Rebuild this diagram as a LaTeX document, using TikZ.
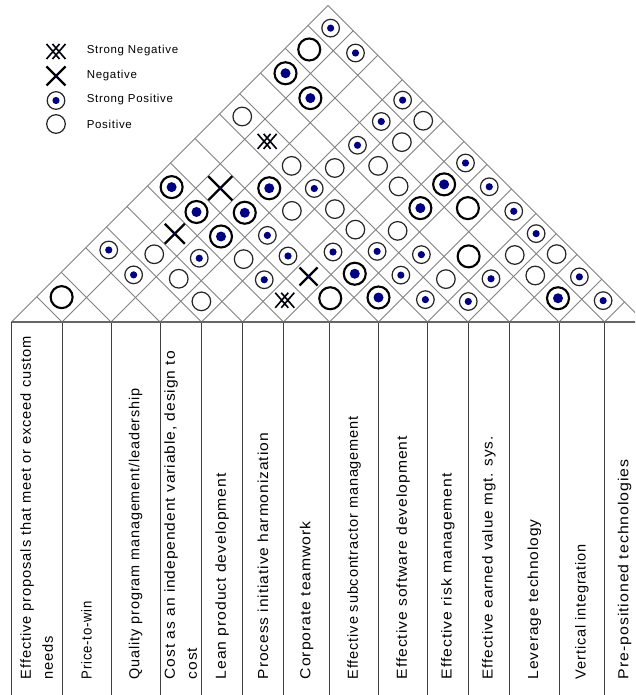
\documentclass[tikz,border=0pt]{standalone}
\usepackage{fontspec}
\setmainfont{Liberation Sans}
\newfontfamily\lblfont{Liberation Sans}[LetterSpace=6]
\newcommand\labfont{\lblfont\fontsize{10.875pt}{16.5pt}\selectfont}
\definecolor{navy}{RGB}{0,0,128}
\definecolor{gridgray}{RGB}{128,128,128}
\def\Bnd{{11.5,62,111,160,201.5,242.5,283.5,329.5,378.5,427.5,468,509.5,559,604.5,644.5}}
\def\yz{322}
\newcommand\colctr[2]{% #1 column index, #2 macro to receive centre
  \pgfmathsetmacro\bndA{\Bnd[\the\numexpr#1-1\relax]}%
  \pgfmathsetmacro\bndB{\Bnd[#1]}%
  \pgfmathsetmacro#2{(\bndA+\bndB)/2}%
}
\newcommand\cellsym[3]{%
  \colctr{#1}{\cI}\colctr{#2}{\cJ}%
  \pgfmathsetmacro\cX{(\cI+\cJ)/2}%
  \pgfmathsetmacro\cY{\yz-(\cJ-\cI)/2}%
  \coordinate (cell-#1-#2) at (\cX,\cY);%
  \pic at (cell-#1-#2) {#3};%
}
\newcommand\fitscale[3]{% key, target length in px, text
  \setbox0=\hbox{\labfont #3}%
  \edef\natw{\the\wd0}%
  \pgfmathsetmacro\tmpsx{#2*0.75/\natw}%
  \expandafter\xdef\csname sxl#1\endcsname{\tmpsx}%
}
\newcommand\collabel[3]{% index, name, text
  \colctr{#1}{\cI}%
  \edef\sx{\csname sxl#1\endcsname}%
  \node[lbl] (#2) at (\cI,679.5) {\scalebox{\sx}[1]{#3}};%
}
\newcommand\collabelii[4]{% index, name, line 1, line 2
  \colctr{#1}{\cI}%
  \edef\sx{\csname sxl#1\endcsname}%
  \node[lbl] (#2) at (\cI,679.5) {\scalebox{\sx}[1]{#3}\\\scalebox{\sx}[1]{#4}};%
}
\begin{document}%
\fitscale{1}{343}{Effective proposals that meet or exceed custom}%
\fitscale{2}{78}{Price-to-win}%
\fitscale{3}{291}{Quality program management/leadership}%
\fitscale{4}{328}{Cost as an independent variable, design to}%
\fitscale{5}{206}{Lean product development}%
\fitscale{6}{246}{Process initiative harmonization}%
\fitscale{7}{158}{Corporate teamwork}%
\fitscale{8}{263}{Effective subcontractor management}%
\fitscale{9}{243}{Effective software development}%
\fitscale{10}{206}{Effective risk management}%
\fitscale{11}{243}{Effective earned value mgt. sys.}%
\fitscale{12}{160}{Leverage technology}%
\fitscale{13}{135}{Vertical integration}%
\fitscale{14}{220}{Pre-positioned technologies}%
\begin{tikzpicture}[x=0.75pt,y=-0.75pt,
  gridline/.style={draw=gridgray,line width=0.75pt},
  colline/.style={draw=black!75,line width=0.75pt},
  roofbase/.style={draw=gridgray!80!black,line width=0.9pt},
  lbl/.style={rotate=90,anchor=west,inner sep=0pt,align=left,font=\labfont},
  legtxt/.style={anchor=west,inner sep=0pt,
    font=\lblfont\fontsize{8.625pt}{10pt}\selectfont},
  pics/sp/.style={code={\draw[line width=0.9pt,draw=black!85] (0,0) circle[radius=8.8];
      \fill[navy] (0,0) circle[radius=3.6];}},
  pics/spl/.style={code={\draw[line width=1.6pt,draw=black] (0,0) circle[radius=11];
      \fill[navy] (0,0) circle[radius=5];}},
  pics/po/.style={code={\draw[line width=0.9pt,draw=black!85] (0,0) circle[radius=9.3];}},
  pics/pol/.style={code={\draw[line width=1.6pt,draw=black] (0,0) circle[radius=11];}},
  pics/ng/.style={code={\draw[line width=1.8pt,draw=black] (-#1,-#1) -- (#1,#1) (-#1,#1) -- (#1,-#1);
      \fill[navy] (0,0) circle[radius=1.3];}},
  pics/sn/.style={code={\draw[line width=1.2pt,draw=black!90!navy]
      (-9.5,-7.5) -- (3.5,7.5) (-9.5,7.5) -- (3.5,-7.5)
      (-3.5,-7.5) -- (9.5,7.5) (-3.5,7.5) -- (9.5,-7.5);}}
]
\useasboundingbox (0,0) rectangle (635,695);
\clip (0,0) rectangle (635,695);
% base points and roof grid
\pgfmathsetmacro\bz{\Bnd[0]}
\pgfmathsetmacro\bn{\Bnd[14]}
\foreach \k in {0,...,14} {
  \pgfmathsetmacro\bk{\Bnd[\k]}
  \coordinate (base-\k) at (\bk,\yz);
  \coordinate (foot-\k) at (\bk,695);
}
\foreach \k in {0,...,13} {
  \pgfmathsetmacro\bk{\Bnd[\k]}
  \pgfmathsetmacro\ex{(\bk+\bn)/2}
  \pgfmathsetmacro\ey{\yz-(\bn-\bk)/2}
  \coordinate (re-\k) at (\ex,\ey);
  \draw[gridline] (base-\k) -- (re-\k);
}
\foreach \k in {1,...,14} {
  \pgfmathsetmacro\bk{\Bnd[\k]}
  \pgfmathsetmacro\ex{(\bz+\bk)/2}
  \pgfmathsetmacro\ey{\yz-(\bk-\bz)/2}
  \coordinate (le-\k) at (\ex,\ey);
  \draw[gridline] (base-\k) -- (le-\k);
}
\foreach \k in {0,...,14} {\draw[colline] (base-\k) -- (foot-\k);}
\draw[roofbase] (base-0) -- (base-14);
% correlation symbols
\cellsym{1}{2}{pol}
\cellsym{1}{4}{sp}
\cellsym{1}{7}{spl}
\cellsym{1}{10}{po}
\cellsym{1}{12}{spl}
\cellsym{1}{13}{pol}
\cellsym{1}{14}{sp}
\cellsym{2}{4}{sp}
\cellsym{2}{5}{po}
\cellsym{2}{6}{ng=10}
\cellsym{2}{7}{spl}
\cellsym{2}{8}{ng=12}
\cellsym{2}{10}{sn}
\cellsym{2}{12}{spl}
\cellsym{2}{14}{sp}
\cellsym{3}{5}{po}
\cellsym{3}{6}{sp}
\cellsym{3}{7}{spl}
\cellsym{3}{8}{spl}
\cellsym{3}{9}{spl}
\cellsym{3}{10}{po}
\cellsym{4}{5}{po}
\cellsym{4}{7}{po}
\cellsym{4}{8}{sp}
\cellsym{4}{9}{po}
\cellsym{4}{10}{sp}
\cellsym{4}{11}{po}
\cellsym{4}{12}{sp}
\cellsym{4}{13}{sp}
\cellsym{4}{14}{sp}
\cellsym{5}{7}{sp}
\cellsym{5}{8}{sp}
\cellsym{5}{10}{po}
\cellsym{5}{12}{po}
\cellsym{5}{13}{po}
\cellsym{5}{14}{po}
\cellsym{6}{7}{sn}
\cellsym{6}{8}{ng=9}
\cellsym{6}{9}{sp}
\cellsym{6}{10}{po}
\cellsym{6}{12}{po}
\cellsym{7}{8}{pol}
\cellsym{7}{9}{spl}
\cellsym{7}{10}{sp}
\cellsym{7}{11}{po}
\cellsym{7}{12}{spl}
\cellsym{7}{13}{spl}
\cellsym{7}{14}{sp}
\cellsym{8}{9}{spl}
\cellsym{8}{10}{sp}
\cellsym{8}{11}{sp}
\cellsym{8}{13}{pol}
\cellsym{8}{14}{sp}
\cellsym{9}{10}{sp}
\cellsym{9}{11}{po}
\cellsym{9}{12}{pol}
\cellsym{9}{14}{sp}
\cellsym{10}{11}{sp}
\cellsym{10}{12}{sp}
\cellsym{10}{13}{po}
\cellsym{10}{14}{sp}
\cellsym{11}{13}{po}
\cellsym{11}{14}{po}
\cellsym{12}{13}{spl}
\cellsym{12}{14}{sp}
\cellsym{13}{14}{sp}
% legend
\coordinate (ls-sn) at (56,51.5);
\coordinate (ls-ng) at (56,76);
\coordinate (ls-sp) at (56,100.5);
\coordinate (ls-po) at (56,124);
\pic at (ls-sn) {sn};
\pic at (ls-ng) {ng=9.5};
\pic at (ls-sp) {sp};
\pic at (ls-po) {po};
\node[legtxt] (lt-sn) at (86.5,51) {Strong Negative};
\node[legtxt] (lt-ng) at (86.5,75.5) {Negative};
\node[legtxt] (lt-sp) at (86.5,100) {Strong Positive};
\node[legtxt] (lt-po) at (86.5,124) {Positive};
% column labels
\collabelii{1}{col1}{Effective proposals that meet or exceed custom}{needs}
\collabel{2}{col2}{Price-to-win}
\collabel{3}{col3}{Quality program management/leadership}
\collabelii{4}{col4}{Cost as an independent variable, design to}{cost}
\collabel{5}{col5}{Lean product development}
\collabel{6}{col6}{Process initiative harmonization}
\collabel{7}{col7}{Corporate teamwork}
\collabel{8}{col8}{Effective subcontractor management}
\collabel{9}{col9}{Effective software development}
\collabel{10}{col10}{Effective risk management}
\collabel{11}{col11}{Effective earned value mgt. sys.}
\collabel{12}{col12}{Leverage technology}
\collabel{13}{col13}{Vertical integration}
\collabel{14}{col14}{Pre-positioned technologies}
\end{tikzpicture}
\end{document}
